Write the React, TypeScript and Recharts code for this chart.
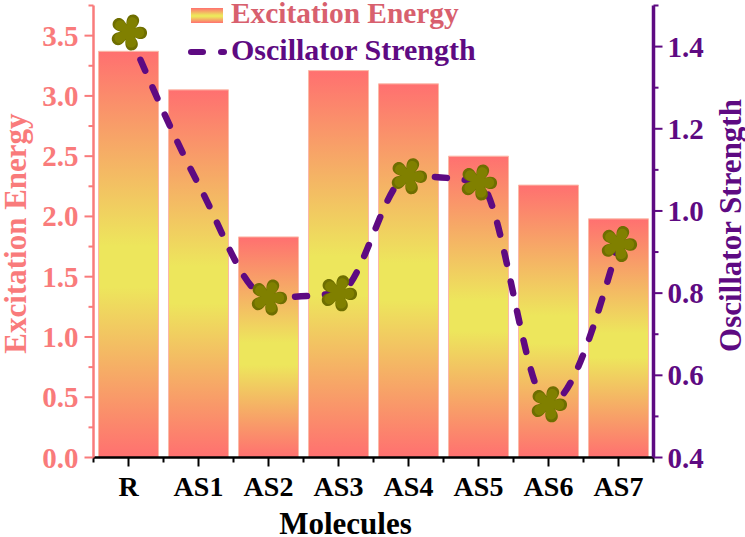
import React from "react";
import { ComposedChart, Bar, Line, XAxis, YAxis, Legend } from "recharts";

const molecules = ["R", "AS1", "AS2", "AS3", "AS4", "AS5", "AS6", "AS7"];
const excitationEnergy = [3.37, 3.05, 1.83, 3.21, 3.10, 2.50, 2.26, 1.98];
const oscillatorStrength = [1.435, 1.065, 0.79, 0.80, 1.085, 1.07, 0.53, 0.92];
const moleculesWithoutMarker = ["AS1"];
const leftTicks = [0, 0.25, 0.5, 0.75, 1, 1.25, 1.5, 1.75, 2, 2.25, 2.5, 2.75, 3, 3.25, 3.5, 3.75];
const rightTicks = [0.4, 0.5, 0.6, 0.7, 0.8, 0.9, 1.0, 1.1, 1.2, 1.3, 1.4, 1.5];

const data = molecules.map((name, i) => ({
  name,
  energy: excitationEnergy[i],
  strength: oscillatorStrength[i],
}));

const SERIF = "'Liberation Serif', 'Times New Roman', serif";
const PINK = "#F97B7B";
const PURPLE = "#5E0A82";
const OLIVE = "#808000";

function flowerPath(r: number) {
  const petals = 5;
  let d = "";
  for (let i = 0; i < petals; i++) {
    const a0 = ((i - 0.5) / petals) * Math.PI * 2 - 1.2;
    const a1 = ((i + 0.5) / petals) * Math.PI * 2 - 1.2;
    const mid = (a0 + a1) / 2;
    const inner = r * 0.42;
    const sx = Math.cos(a0) * inner;
    const sy = Math.sin(a0) * inner;
    const ex = Math.cos(a1) * inner;
    const ey = Math.sin(a1) * inner;
    const c1x = Math.cos(mid - 0.5) * r * 1.36;
    const c1y = Math.sin(mid - 0.5) * r * 1.36;
    const c2x = Math.cos(mid + 0.5) * r * 1.36;
    const c2y = Math.sin(mid + 0.5) * r * 1.36;
    d += `${i === 0 ? "M" : "L"}${sx.toFixed(2)} ${sy.toFixed(2)} C${c1x.toFixed(2)} ${c1y.toFixed(2)} ${c2x.toFixed(2)} ${c2y.toFixed(2)} ${ex.toFixed(2)} ${ey.toFixed(2)} `;
  }
  return d + "Z";
}

const FLOWER = flowerPath(19);

function StarDot(props: any) {
  const { cx, cy, payload, index } = props;
  if (moleculesWithoutMarker.includes(payload.name)) return <g key={index} />;
  return (
    <g key={index} transform={`translate(${cx},${cy})`}>
      <path d={FLOWER} fill="#6E6E00" />
      <path d={flowerPath(16)} fill={OLIVE} />
    </g>
  );
}

function LeftTick(props: any) {
  const { x, y, payload } = props;
  const v = payload.value;
  const major = Math.abs(v * 2 - Math.round(v * 2)) < 1e-6;
  return (
    <g>
      <line x1={x} x2={x - (major ? 9 : 5)} y1={y} y2={y} stroke={PINK} strokeWidth={2} />
      {major && (
        <text x={x - 15} y={y + 10} textAnchor="end" fontFamily={SERIF} fontWeight="bold" fontSize={29} fill={PINK}>
          {v.toFixed(1)}
        </text>
      )}
    </g>
  );
}

function RightTick(props: any) {
  const { x, y, payload } = props;
  const v = payload.value;
  const major = Math.abs(v * 5 - Math.round(v * 5)) < 1e-6;
  return (
    <g>
      <line x1={x} x2={x + (major ? 9 : 5)} y1={y} y2={y} stroke={PURPLE} strokeWidth={2} />
      {major && (
        <text x={x + 14} y={y + 10} textAnchor="start" fontFamily={SERIF} fontWeight="bold" fontSize={29} fill={PURPLE}>
          {v.toFixed(1)}
        </text>
      )}
    </g>
  );
}

function BottomTick(props: any) {
  const { x, y, payload, index } = props;
  const band = 70;
  return (
    <g>
      <line x1={x} x2={x} y1={y} y2={y + 9} stroke="#000" strokeWidth={2} />
      {index === 0 ? <line x1={x - band / 2} x2={x - band / 2} y1={y} y2={y + 5} stroke="#000" strokeWidth={2} /> : null}
      <line x1={x + band / 2} x2={x + band / 2} y1={y} y2={y + 5} stroke="#000" strokeWidth={2} />
      <text x={x} y={y + 38} textAnchor="middle" fontFamily={SERIF} fontWeight="bold" fontSize={28} fill="#000">
        {payload.value}
      </text>
    </g>
  );
}

function YTitle(props: any) {
  const { viewBox, text, fill, side } = props;
  const px = side === "left" ? 15 : 730;
  const py = viewBox.y + viewBox.height / 2 + (side === "left" ? 2 : -6);
  return (
    <text
      x={0}
      y={0}
      transform={`translate(${px},${py}) rotate(-90)`}
      textAnchor="middle"
      dominantBaseline="central"
      fontFamily={SERIF}
      fontWeight="bold"
      fontSize={31}
      fill={fill}
    >
      {text}
    </text>
  );
}

function XTitle(props: any) {
  const { viewBox } = props;
  return (
    <text
      x={viewBox.x + viewBox.width / 2 - 28}
      y={534}
      textAnchor="middle"
      fontFamily={SERIF}
      fontWeight="bold"
      fontSize={31}
      fill="#000"
    >
      Molecules
    </text>
  );
}

function ChartLegend() {
  const textStyle: React.CSSProperties = {
    position: "absolute",
    left: 231,
    fontFamily: SERIF,
    fontWeight: "bold",
    lineHeight: "34px",
    whiteSpace: "nowrap",
  };
  return (
    <div style={{ position: "relative", width: 745, height: 0 }}>
      <svg width={240} height={70} style={{ position: "absolute", left: 0, top: 0 }}>
        <rect x={191} y={8} width={32} height={15} fill="url(#energyGradient)" />
        <line x1={191} x2={203} y1={52} y2={52} stroke={PURPLE} strokeWidth={6} strokeLinecap="round" />
        <line x1={221} x2={224} y1={52} y2={52} stroke={PURPLE} strokeWidth={6} strokeLinecap="round" />
      </svg>
      <span style={{ ...textStyle, top: -4, fontSize: 29.4, color: "#D8606E" }}>Excitation Energy</span>
      <span style={{ ...textStyle, top: 33, fontSize: 30, color: PURPLE }}>Oscillator Strength</span>
    </div>
  );
}

export default function App() {
  return (
    <div style={{ position: "absolute", left: 0, top: 0, width: 745, height: 537, background: "#fff" }}>
      <ComposedChart
        width={745}
        height={537}
        data={data}
        barCategoryGap={5}
        margin={{ top: 5.5, right: 0, bottom: 19.5, left: 0 }}
      >
        <defs>
          <linearGradient id="energyGradient" x1="0" y1="0" x2="0" y2="1">
            <stop offset="0%" stopColor="#FF7070" />
            <stop offset="48%" stopColor="#EDE65C" />
            <stop offset="58%" stopColor="#EDE65C" />
            <stop offset="100%" stopColor="#FF7070" />
          </linearGradient>
        </defs>
        <XAxis
          dataKey="name"
          height={60}
          axisLine={{ stroke: "#000", strokeWidth: 2.5 }}
          tickLine={false}
          tickSize={0}
          tickMargin={0}
          interval={0}
          tick={<BottomTick />}
          label={<XTitle />}
        />
        <YAxis
          yAxisId="left"
          width={93.5}
          domain={[0, 3.75]}
          ticks={leftTicks}
          interval={0}
          axisLine={{ stroke: PINK, strokeWidth: 2.5 }}
          tickLine={false}
          tickSize={0}
          tickMargin={0}
          tick={<LeftTick />}
          label={<YTitle text="Excitation Energy" fill={PINK} side="left" />}
        />
        <YAxis
          yAxisId="right"
          orientation="right"
          width={91.5}
          domain={[0.4, 1.5]}
          ticks={rightTicks}
          interval={0}
          axisLine={{ stroke: PURPLE, strokeWidth: 3.5 }}
          tickLine={false}
          tickSize={0}
          tickMargin={0}
          tick={<RightTick />}
          label={<YTitle text="Oscillator Strength" fill={PURPLE} side="right" />}
        />
        <Legend
          content={<ChartLegend />}
          wrapperStyle={{ position: "absolute", left: 0, top: 0, width: 745, height: 0 }}
        />
        <Bar
          yAxisId="left"
          dataKey="energy"
          name="Excitation Energy"
          fill="url(#energyGradient)"
          stroke="#FBB9A8"
          strokeWidth={1}
          isAnimationActive={false}
        />
        <Line
          yAxisId="right"
          dataKey="strength"
          name="Oscillator Strength"
          type="monotone"
          stroke={PURPLE}
          strokeWidth={6.5}
          strokeLinecap="round"
          strokeDasharray="12 18"
          dot={(p: any) => <StarDot {...p} />}
          activeDot={false}
          isAnimationActive={false}
        />
      </ComposedChart>
    </div>
  );
}
